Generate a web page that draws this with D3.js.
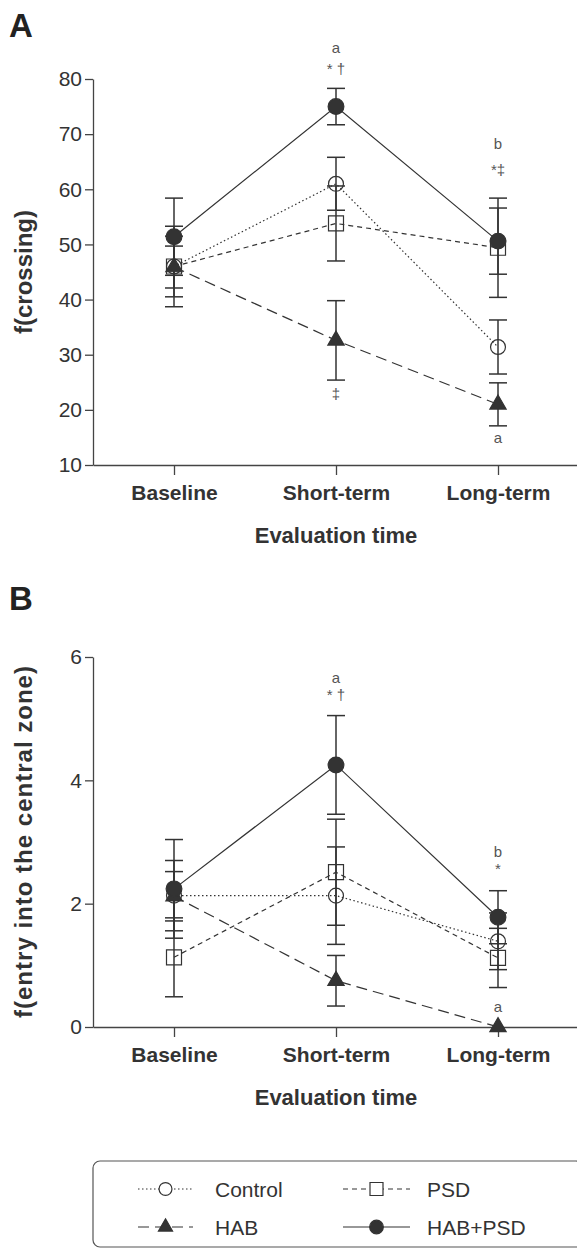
<!DOCTYPE html>
<html>
<head>
<meta charset="utf-8">
<script src="https://cdn.jsdelivr.net/npm/d3@7"></script>
<style>
  body { margin: 0; background: #fff; }
  svg { display: block; font-family: "Liberation Sans", Arial, sans-serif; }
</style>
</head>
<body>
<script>
const categories = ["Baseline", "Short-term", "Long-term"];
const groups = ["Control", "PSD", "HAB", "HAB+PSD"];

// panel A - f(crossing), mean and error per time point
const controlCross = [46.0, 61.0, 31.4];
const psdCross = [46.0, 53.8, 49.4];
const habCross = [45.9, 32.6, 21.0];
const habPsdCross = [51.4, 75.0, 50.6];
const controlCrossErr = [5.5, 4.8, 4.9];
const psdCrossErr = [7.3, 6.8, 9.0];
const habCrossErr = [3.8, 7.2, 3.9];
const habPsdCrossErr = [7.0, 3.3, 6.0];
const crossTicks = [10, 20, 30, 40, 50, 60, 70, 80];

// panel B - f(entry into the central zone)
const controlEntry = [2.13, 2.13, 1.39];
const psdEntry = [1.13, 2.51, 1.12];
const habEntry = [2.12, 0.75, 0.0];
const habPsdEntry = [2.24, 4.25, 1.78];
const controlEntryErr = [0.57, 0.79, 0.46];
const psdEntryErr = [0.64, 0.86, 0.48];
const habEntryErr = [0.40, 0.41, 0.0];
const habPsdEntryErr = [0.80, 0.80, 0.43];
const entryTicks = [0, 2, 4, 6];

// significance marks: [time point, value level, text]
const crossNotes = [
  ["Short-term", 85.6, "a"], ["Short-term", 81.9, "* \u2020"],
  ["Long-term", 68.2, "b"], ["Long-term", 63.5, "*\u2021"],
  ["Short-term", 22.9, "\u2021"], ["Long-term", 15.0, "a"]
];
const entryNotes = [
  ["Short-term", 5.66, "a"], ["Short-term", 5.39, "* \u2020"],
  ["Long-term", 2.84, "b"], ["Long-term", 2.56, "*"],
  ["Long-term", 0.33, "a"]
];

const ink = "#333";
const styles = {
  "Control":  { dash: "1.5,2.5", symbol: d3.symbolCircle,   size: 175, fill: "none" },
  "PSD":      { dash: "5,4",     symbol: d3.symbolSquare,   size: 225, fill: "none" },
  "HAB":      { dash: "11,6",    symbol: d3.symbolTriangle, size: 115, fill: ink },
  "HAB+PSD":  { dash: null,      symbol: d3.symbolCircle,   size: 195, fill: ink }
};

const svg = d3.select("body").append("svg")
  .attr("width", 577).attr("height", 1248);

const x = d3.scalePoint().domain(categories).range([93, 579]).padding(0.5);

function drawPanel(p) {
  const y = d3.scaleLinear().domain(p.domain).range(p.range);
  const g = svg.append("g");

  // panel letter
  g.append("text").attr("x", 9).attr("y", p.letterY)
    .attr("font-size", 33).attr("font-weight", "bold").attr("fill", "#222")
    .text(p.letter);

  // y axis
  const gy = g.append("g").attr("transform", "translate(93,0)")
    .call(d3.axisLeft(y).tickValues(p.ticks).tickFormat(d3.format("d"))
      .tickSize(8).tickSizeOuter(0).tickPadding(3));
  gy.selectAll("path, line").attr("stroke", "#444").attr("stroke-width", 1.3);
  gy.selectAll("text").attr("font-size", 21).attr("fill", ink)
    .attr("font-family", "'Liberation Sans', Arial, sans-serif");

  // x axis
  const y0 = p.range[0];
  const gx = g.append("g").attr("transform", `translate(0,${y0})`)
    .call(d3.axisBottom(x).tickSize(10).tickSizeOuter(0).tickPadding(10));
  gx.selectAll("path, line").attr("stroke", "#444").attr("stroke-width", 1.3);
  gx.selectAll("text").attr("font-size", 21).attr("font-weight", "bold").attr("fill", ink)
    .attr("font-family", "'Liberation Sans', Arial, sans-serif");

  g.append("text").attr("x", 336).attr("y", y0 + 78)
    .attr("text-anchor", "middle").attr("font-size", 22).attr("font-weight", "bold")
    .attr("fill", ink).text("Evaluation time");

  const yMid = (p.range[0] + p.range[1]) / 2;
  const title = g.append("text")
    .attr("transform", `translate(32,${yMid}) rotate(-90)`)
    .attr("text-anchor", "middle").attr("font-size", 24).attr("font-weight", "bold")
    .attr("fill", ink).text(p.title);
  if (p.titleLength) title.attr("textLength", p.titleLength).attr("lengthAdjust", "spacing");

  const line = d3.line().x((d, i) => x(categories[i])).y(d => y(d));

  // connecting lines
  groups.forEach((name, k) => {
    g.append("path").datum(p.means[k])
      .attr("d", line).attr("fill", "none")
      .attr("stroke", ink).attr("stroke-width", 1.2)
      .attr("stroke-dasharray", styles[name].dash);
  });

  // error bars
  groups.forEach((name, k) => {
    p.means[k].forEach((m, i) => {
      const e = p.errs[k][i];
      if (!e) return;
      const cx = x(categories[i]);
      const eb = g.append("g").attr("stroke", ink).attr("stroke-width", 1.5);
      eb.append("line").attr("x1", cx).attr("x2", cx).attr("y1", y(m - e)).attr("y2", y(m + e));
      [m - e, m + e].forEach(v => {
        eb.append("line").attr("x1", cx - 9).attr("x2", cx + 9).attr("y1", y(v)).attr("y2", y(v));
      });
    });
  });

  // markers
  groups.forEach((name, k) => {
    const s = styles[name];
    g.selectAll(null).data(p.means[k]).join("path")
      .attr("transform", (d, i) => `translate(${x(categories[i])},${y(d)})`)
      .attr("d", d3.symbol().type(s.symbol).size(s.size))
      .attr("fill", s.fill).attr("stroke", ink).attr("stroke-width", 1.2);
  });

  // significance marks
  g.selectAll(null).data(p.notes).join("text")
    .attr("x", d => x(d[0])).attr("y", d => y(d[1]))
    .attr("dy", "0.35em").attr("text-anchor", "middle")
    .attr("font-size", 15).attr("fill", "#555")
    .text(d => d[2]);
}

drawPanel({
  letter: "A", letterY: 37,
  domain: [10, 80], range: [465, 79], ticks: crossTicks,
  title: "f(crossing)",
  means: [controlCross, psdCross, habCross, habPsdCross],
  errs: [controlCrossErr, psdCrossErr, habCrossErr, habPsdCrossErr],
  notes: crossNotes
});

drawPanel({
  letter: "B", letterY: 610,
  domain: [0, 6], range: [1027, 657], ticks: entryTicks,
  title: "f(entry into the central zone)", titleLength: 352,
  means: [controlEntry, psdEntry, habEntry, habPsdEntry],
  errs: [controlEntryErr, psdEntryErr, habEntryErr, habPsdEntryErr],
  notes: entryNotes
});

// legend
const legend = svg.append("g");
legend.append("rect")
  .attr("x", 93).attr("y", 1161).attr("width", 490).attr("height", 86).attr("rx", 7)
  .attr("fill", "none").attr("stroke", "#555").attr("stroke-width", 1.2);

const legendCols = [[138, 193, 215], [343, 410, 427]];
const legendRows = [1189, 1227];
groups.forEach((name, k) => {
  const s = styles[name];
  const [x1, x2, tx] = legendCols[k % 2];
  const ly = legendRows[Math.floor(k / 2)];
  const item = legend.append("g");
  item.append("line").attr("x1", x1).attr("x2", x2).attr("y1", ly).attr("y2", ly)
    .attr("stroke", ink).attr("stroke-width", 1.2).attr("stroke-dasharray", s.dash);
  item.append("path")
    .attr("transform", `translate(${(x1 + x2) / 2},${ly})`)
    .attr("d", d3.symbol().type(s.symbol).size(s.size * 0.75))
    .attr("fill", s.fill === "none" ? "#fff" : s.fill)
    .attr("stroke", ink).attr("stroke-width", 1.2);
  item.append("text").attr("x", tx).attr("y", ly + 7.5)
    .attr("font-size", 21).attr("fill", ink).text(name);
});
</script>
</body>
</html>
